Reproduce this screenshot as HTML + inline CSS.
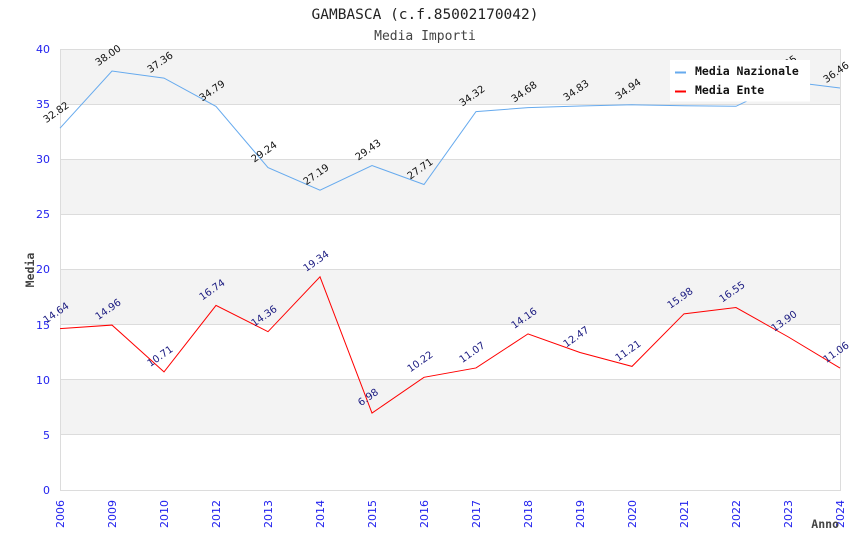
<!DOCTYPE html>
<html><head><meta charset="utf-8"><style>
html,body{margin:0;padding:0;background:#fff;}
svg{display:block;}
</style></head><body>
<svg width="850" height="550" xmlns="http://www.w3.org/2000/svg">
<rect x="0" y="0" width="850" height="550" fill="#fff"/>
<!-- bands -->
<rect x="60.5" y="49" width="779.5" height="55.1" fill="#f3f3f3"/>
<rect x="60.5" y="159.25" width="779.5" height="55.1" fill="#f3f3f3"/>
<rect x="60.5" y="269.5" width="779.5" height="55.1" fill="#f3f3f3"/>
<rect x="60.5" y="379.75" width="779.5" height="55.1" fill="#f3f3f3"/>
<!-- gridlines -->
<g stroke="#dcdcdc" stroke-width="1">
<line x1="60" y1="49.5" x2="840" y2="49.5"/>
<line x1="60" y1="104.5" x2="840" y2="104.5"/>
<line x1="60" y1="159.5" x2="840" y2="159.5"/>
<line x1="60" y1="214.5" x2="840" y2="214.5"/>
<line x1="60" y1="269.5" x2="840" y2="269.5"/>
<line x1="60" y1="324.5" x2="840" y2="324.5"/>
<line x1="60" y1="379.5" x2="840" y2="379.5"/>
<line x1="60" y1="434.5" x2="840" y2="434.5"/>
<line x1="60" y1="490.5" x2="840" y2="490.5"/>
<line x1="60.5" y1="49" x2="60.5" y2="491"/>
<line x1="840.5" y1="49" x2="840.5" y2="491"/>
</g>
<!-- title -->
<text x="425" y="19" text-anchor="middle" font-family="'DejaVu Sans Mono','Liberation Mono',monospace" font-size="14.5" fill="#222">GAMBASCA (c.f.85002170042)</text>
<text x="425" y="40" text-anchor="middle" font-family="'DejaVu Sans Mono','Liberation Mono',monospace" font-size="13" fill="#444">Media Importi</text>
<!-- y ticks -->
<g font-family="'DejaVu Sans','Liberation Sans',sans-serif" font-size="11" fill="#2222ee" text-anchor="end">
<text x="50" y="53">40</text>
<text x="50" y="108">35</text>
<text x="50" y="163">30</text>
<text x="50" y="218">25</text>
<text x="50" y="273">20</text>
<text x="50" y="329">15</text>
<text x="50" y="384">10</text>
<text x="50" y="439">5</text>
<text x="50" y="494">0</text>
</g>
<!-- x ticks -->
<g font-family="'DejaVu Sans','Liberation Sans',sans-serif" font-size="11" fill="#2222ee" text-anchor="end">
<text transform="translate(64,500) rotate(-90)">2006</text>
<text transform="translate(116,500) rotate(-90)">2009</text>
<text transform="translate(168,500) rotate(-90)">2010</text>
<text transform="translate(220,500) rotate(-90)">2012</text>
<text transform="translate(272,500) rotate(-90)">2013</text>
<text transform="translate(324,500) rotate(-90)">2014</text>
<text transform="translate(376,500) rotate(-90)">2015</text>
<text transform="translate(428,500) rotate(-90)">2016</text>
<text transform="translate(480,500) rotate(-90)">2017</text>
<text transform="translate(532,500) rotate(-90)">2018</text>
<text transform="translate(584,500) rotate(-90)">2019</text>
<text transform="translate(636,500) rotate(-90)">2020</text>
<text transform="translate(688,500) rotate(-90)">2021</text>
<text transform="translate(740,500) rotate(-90)">2022</text>
<text transform="translate(792,500) rotate(-90)">2023</text>
<text transform="translate(844,500) rotate(-90)">2024</text>
</g>
<!-- axis titles -->
<text transform="translate(34,270) rotate(-90)" text-anchor="middle" font-family="'DejaVu Sans Mono','Liberation Mono',monospace" font-weight="bold" font-size="11.5" fill="#444">Media</text>
<text x="839" y="528" text-anchor="end" font-family="'DejaVu Sans Mono','Liberation Mono',monospace" font-weight="bold" font-size="11.5" fill="#444">Anno</text>
<!-- series lines -->
<polyline fill="none" stroke="#66aaee" stroke-width="1" points="60,128.15 112,71.05 164,78.11 216,106.44 268,167.63 320,190.23 372,165.53 424,184.5 476,111.62 528,107.65 580,106 632,104.79 684,105.8 736,106.3 788,81.5 840,88.03"/>
<polyline fill="none" stroke="#ff0000" stroke-width="1" points="60,328.59 112,325.07 164,371.92 216,305.44 268,331.68 320,276.78 372,413.05 424,377.32 476,367.95 528,333.89 580,352.52 632,366.41 684,313.82 736,307.54 788,336.75 840,368.06"/>
<!-- labels nazionale -->
<g font-family="'DejaVu Sans','Liberation Sans',sans-serif" font-size="10" fill="#111" text-anchor="middle">
<text transform="translate(58,115) rotate(-35)">32.82</text>
<text transform="translate(110,58) rotate(-35)">38.00</text>
<text transform="translate(162,65) rotate(-35)">37.36</text>
<text transform="translate(214,93.4) rotate(-35)">34.79</text>
<text transform="translate(266,154.6) rotate(-35)">29.24</text>
<text transform="translate(318,177.2) rotate(-35)">27.19</text>
<text transform="translate(370,152.5) rotate(-35)">29.43</text>
<text transform="translate(422,171.5) rotate(-35)">27.71</text>
<text transform="translate(474,98.6) rotate(-35)">34.32</text>
<text transform="translate(526,94.6) rotate(-35)">34.68</text>
<text transform="translate(578,93) rotate(-35)">34.83</text>
<text transform="translate(630,91.8) rotate(-35)">34.94</text>
<text transform="translate(734,93.3) rotate(-35)">34.80</text>
<text transform="translate(786,68.5) rotate(-35)">37.05</text>
<text transform="translate(838,75) rotate(-35)">36.46</text>
</g>
<!-- labels ente -->
<g font-family="'DejaVu Sans','Liberation Sans',sans-serif" font-size="10" fill="#1a1a80" text-anchor="middle">
<text transform="translate(58,315.6) rotate(-35)">14.64</text>
<text transform="translate(110,312.1) rotate(-35)">14.96</text>
<text transform="translate(162,358.9) rotate(-35)">10.71</text>
<text transform="translate(214,292.4) rotate(-35)">16.74</text>
<text transform="translate(266,318.7) rotate(-35)">14.36</text>
<text transform="translate(318,263.8) rotate(-35)">19.34</text>
<text transform="translate(370,400) rotate(-35)">6.98</text>
<text transform="translate(422,364.3) rotate(-35)">10.22</text>
<text transform="translate(474,355) rotate(-35)">11.07</text>
<text transform="translate(526,320.9) rotate(-35)">14.16</text>
<text transform="translate(578,339.5) rotate(-35)">12.47</text>
<text transform="translate(630,353.4) rotate(-35)">11.21</text>
<text transform="translate(682,300.8) rotate(-35)">15.98</text>
<text transform="translate(734,294.5) rotate(-35)">16.55</text>
<text transform="translate(786,323.8) rotate(-35)">13.90</text>
<text transform="translate(838,355) rotate(-35)">11.06</text>
</g>
<!-- legend -->
<rect x="670" y="60" width="140" height="41.5" fill="#fff"/>
<line x1="675" y1="72.5" x2="686" y2="72.5" stroke="#66aaee" stroke-width="2"/>
<line x1="675" y1="91.5" x2="686" y2="91.5" stroke="#ff0000" stroke-width="2"/>
<g font-family="'DejaVu Sans Mono','Liberation Mono',monospace" font-weight="bold" font-size="11.5" fill="#111">
<text x="695" y="75">Media Nazionale</text>
<text x="695" y="94">Media Ente</text>
</g>
</svg>
</body></html>
